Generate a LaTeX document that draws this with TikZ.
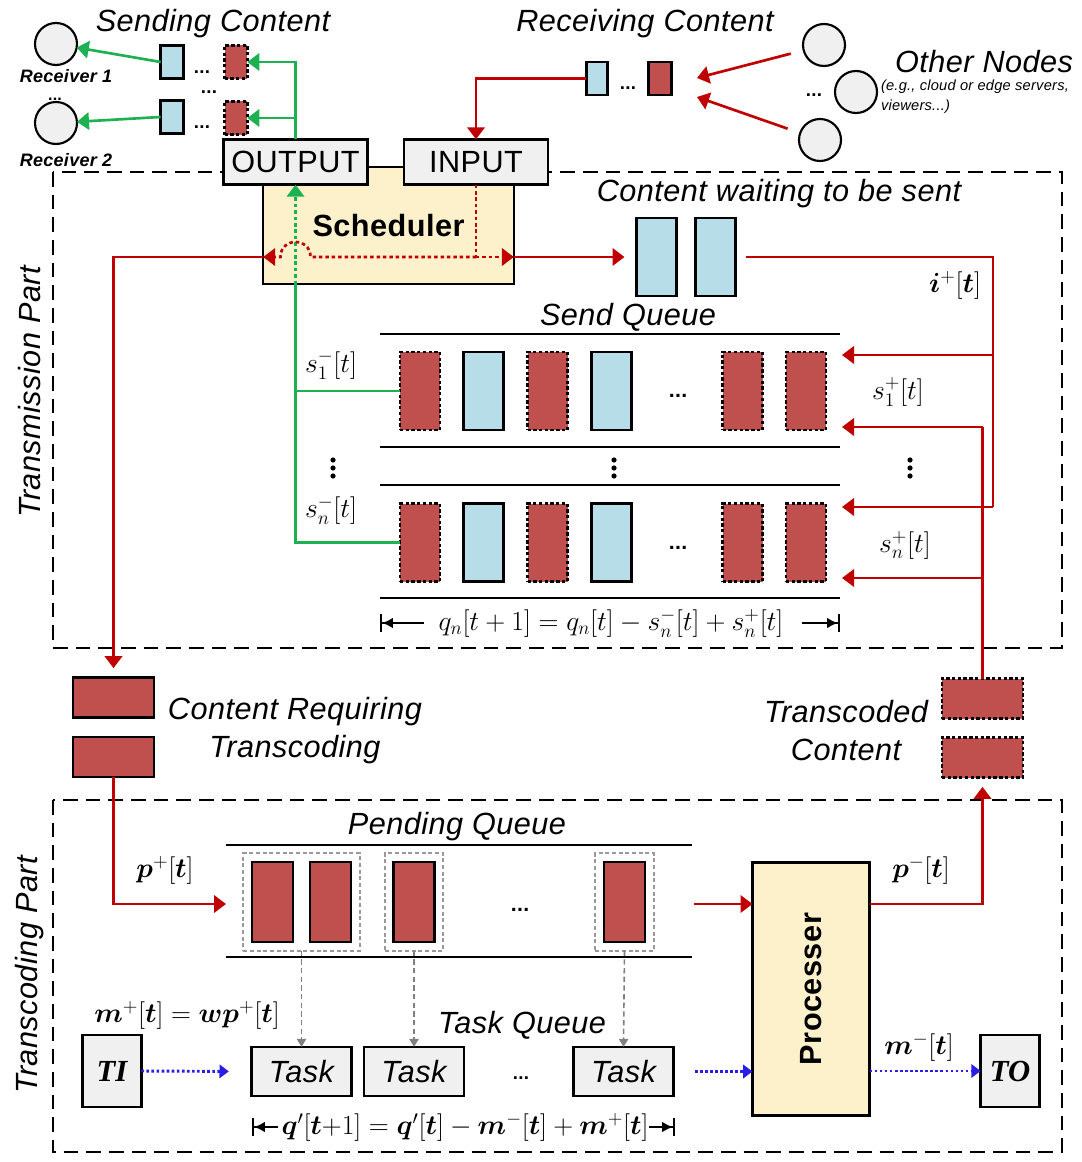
\documentclass[tikz,border=0pt]{standalone}
\usepackage{amsmath}
\usepackage{bm}
\usepackage[no-math]{fontspec}
\setmainfont{Liberation Sans}[LetterSpace=1.5]
\newfontfamily\tmsfont{Liberation Serif}
\usepackage{tikz}
\usetikzlibrary{arrows.meta,positioning,fit,calc}
\definecolor{qred}{HTML}{C0504D}
\definecolor{qblue}{HTML}{B7DDE8}
\definecolor{wirered}{HTML}{C00000}
\definecolor{wiregreen}{HTML}{1EB151}
\definecolor{wireblue}{HTML}{2A1EE6}
\definecolor{boxyellow}{HTML}{FCF1CB}
\definecolor{boxgray}{HTML}{F0F0F0}
\newcommand{\lblfont}{\fontsize{23}{28.5}\selectfont}
\newcommand{\eqfont}{\fontsize{21}{24}\selectfont}

\begin{document}
\begin{tikzpicture}[x=0.75pt,y=-0.75pt,
  every node/.style={inner sep=0pt,outer sep=0pt},
  arr/.style={-{Triangle[length=9pt,width=13pt]}},
  thinarr/.style={-{Triangle[length=6pt,width=7pt]}},
  redwire/.style={draw=wirered,line width=2pt},
  reddot/.style={redwire,dash pattern=on 2.6pt off 2.2pt},
  greenwire/.style={draw=wiregreen,line width=2pt},
  greendot/.style={greenwire,dash pattern=on 2.6pt off 2.2pt},
  bluewire/.style={draw=wireblue,line width=2.2pt,dash pattern=on 2pt off 1.8pt},
  graywire/.style={draw=gray,line width=1.2pt,dash pattern=on 4pt off 2.5pt},
  part/.style={draw,line width=1.2pt,dash pattern=on 11pt off 6pt},
  qline/.style={draw,line width=2pt},
  blueblk/.style={draw,line width=1.8pt,fill=qblue},
  redblk/.style={draw,line width=1.8pt,fill=qred},
  donblk/.style={redblk,dash pattern=on 2.5pt off 1.8pt},
  tinyblk/.style={minimum width=17pt,minimum height=25pt},
  slot/.style={minimum width=30pt,minimum height=58.5pt},
  brick/.style={minimum width=61pt,minimum height=30pt},
  port/.style={draw,line width=1.8pt,fill=boxgray,minimum width=108pt,minimum height=34pt,font=\lblfont},
  taskbox/.style={draw,line width=1.8pt,fill=boxgray,minimum width=75pt,minimum height=37pt,font=\lblfont\itshape},
  term/.style={draw,line width=1.8pt,fill=boxgray,minimum width=44pt,minimum height=54pt,font=\tmsfont\lblfont\bfseries\itshape},
  peer/.style={draw,circle,line width=1.6pt,fill=boxgray,minimum size=31.5pt},
  grp/.style={draw=gray!80,line width=1.5pt,dash pattern=on 3pt off 2pt,inner sep=6.5pt},
  lbl/.style={font=\lblfont\itshape},
  eq/.style={font=\eqfont},
  ellip/.style={font=\fontsize{14}{14}\selectfont\bfseries},
  barhead/.style={line width=1.6pt,-{Latex[length=8pt,width=8pt]Bar[width=13pt]}}]
\useasboundingbox (0,0) rectangle (1081,1162);

\draw[part] (53,172) rectangle (1062,648);
\draw[part] (53,800) rectangle (1062,1152);
\node[lbl,rotate=90] (txpart) at (30,392) {Transmission Part};
\node[lbl,rotate=90] (tcpart) at (30,975) {Transcoding Part};

\node[peer] (rcv1) at (56,44) {};
\node[peer] (rcv2) at (56,123) {};
\node[font=\fontsize{13.5}{15}\selectfont\bfseries\itshape] (rcv1lbl) at (66,76) {Receiver 1};
\node[font=\fontsize{13.5}{15}\selectfont\bfseries\itshape] (rcv2lbl) at (66,160) {Receiver 2};
\node[ellip,font=\fontsize{12}{12}\selectfont\bfseries] (rcvdots) at (55,99) {...};
\node[lbl] (sendlbl) at (213,24) {Sending Content};
\node[blueblk,tinyblk] (sb1) at (172,62) {};
\node[blueblk,tinyblk] (sb2) at (172,117) {};
\node[donblk,tinyblk] (sr1) at (236,62) {};
\node[donblk,tinyblk] (sr2) at (236,118) {};
\node[ellip] (sdots1) at (202,72) {...};
\node[ellip] (sdots2) at (209,92) {...};
\node[ellip] (sdots3) at (202,127) {...};

\node[lbl] (recvlbl) at (645,24) {Receiving Content};
\node[blueblk,tinyblk,minimum width=16pt] (rb) at (597,78.5) {};
\node[redblk,tinyblk] (rr) at (660,78.5) {};
\node[ellip] (rdots) at (628,88) {...};
\node[peer] (on1) at (824,45) {};
\node[peer] (on2) at (856,92) {};
\node[peer] (on3) at (820,140) {};
\node[ellip] (odots) at (814,95) {...};
\node[lbl] (otherlbl) at (984,62) {Other Nodes};
\node[font=\fontsize{11}{15}\selectfont\itshape,align=left,anchor=west] (othernote) at (881,97) {(e.g., cloud or edge servers,\\viewers...)};
\coordinate (rin1) at (697,78);
\coordinate (rin2) at (697,97);

\node[draw,line width=1.8pt,fill=boxyellow,minimum width=188pt,minimum height=88pt,font=\lblfont\bfseries] (sched) at (388.5,225.5) {Scheduler};
\node[port] (OUTPUT) at (295.5,162) {OUTPUT};
\node[port] (INPUT) at (476,162) {INPUT};
\coordinate (lvl) at (0,257);

\node[lbl] (waitlbl) at (779,194) {Content waiting to be sent};
\node[blueblk,slot] (wb1) at (656.5,257) {};
\node[blueblk,slot] (wb2) at (715.5,257) {};
\node[eq] (ilbl) at (955,285) {$\bm{i}^{+}[\bm{t}]$};

\node[lbl] (sqlbl) at (628,317) {Send Queue};
\draw[qline] (380,334) -- (840,334);
\draw[qline] (380,447) -- (840,447);
\draw[qline] (380,485) -- (840,485);
\draw[qline] (380,598) -- (840,598);
\node[donblk,slot] (q1a) at (420,391) {};
\node[blueblk,slot] (q1b) at (483.5,391) {};
\node[donblk,slot] (q1c) at (547.5,391) {};
\node[blueblk,slot] (q1d) at (611.5,391) {};
\node[ellip,font=\fontsize{16}{16}\selectfont\bfseries] (q1dots) at (678,396) {...};
\node[donblk,slot] (q1e) at (742.5,391) {};
\node[donblk,slot] (q1f) at (806,391) {};
\node[donblk,slot] (q2a) at (420,542.5) {};
\node[blueblk,slot] (q2b) at (483.5,542.5) {};
\node[donblk,slot] (q2c) at (547.5,542.5) {};
\node[blueblk,slot] (q2d) at (611.5,542.5) {};
\node[ellip,font=\fontsize{16}{16}\selectfont\bfseries] (q2dots) at (678,548) {...};
\node[donblk,slot] (q2e) at (742.5,542.5) {};
\node[donblk,slot] (q2f) at (806,542.5) {};
\fill (333,460) circle[radius=2.6] (333,468) circle[radius=2.6] (333,476) circle[radius=2.6];
\fill (614,460) circle[radius=2.6] (614,468) circle[radius=2.6] (614,476) circle[radius=2.6];
\fill (910,460) circle[radius=2.6] (910,468) circle[radius=2.6] (910,476) circle[radius=2.6];
\node[eq] (s1m) at (331,365) {$s_1^{-}[t]$};
\node[eq] (snm) at (331,510) {$s_n^{-}[t]$};
\node[eq] (s1p) at (898,392) {$s_1^{+}[t]$};
\node[eq] (snp) at (905,545) {$s_n^{+}[t]$};
\coordinate (in1) at (842,355);
\coordinate (in2) at (842,507);
\coordinate (tc1) at (842,427);
\coordinate (tc2) at (842,578);
\coordinate (ibusT) at (993,257);
\coordinate (ibusB) at (993,507);
\node[eq] (qeq) at (611,623) {$q_n[t+1]=q_n[t]-s_n^{-}[t]+s_n^{+}[t]$};
\coordinate (qeqL) at (380,623);
\coordinate (qeqR) at (840,623);

\node[redblk,brick] (cr1) at (113.5,697.5) {};
\node[redblk,brick] (cr2) at (113.5,757) {};
\node[lbl,align=center] (crlbl) at (295,731) {Content Requiring\\Transcoding};
\node[donblk,brick] (tr1) at (982.5,698.5) {};
\node[donblk,brick] (tr2) at (982.5,757.5) {};
\node[lbl,align=center] (trlbl) at (846,731) {Transcoded\\Content};

\node[lbl] (pqlbl) at (457,827) {Pending Queue};
\draw[qline] (226,845) -- (692,845);
\draw[qline] (226,957) -- (692,957);
\node[redblk,minimum width=30.75pt,minimum height=60pt] (p1) at (272.5,902) {};
\node[redblk,minimum width=30.75pt,minimum height=60pt] (p2) at (330.5,902) {};
\node[redblk,minimum width=30.75pt,minimum height=60pt] (p3) at (414,902) {};
\node[redblk,minimum width=30.75pt,minimum height=60pt] (p4) at (624.5,902) {};
\node[grp,fit=(p1)(p2)] (g1) {};
\node[grp,fit=(p3)] (g2) {};
\node[grp,fit=(p4)] (g3) {};
\node[ellip,font=\fontsize{16}{16}\selectfont\bfseries] (pdots) at (520,910) {...};
\node[eq] (pplus) at (165,870) {$\bm{p}^{+}[\bm{t}]$};
\coordinate (pin) at (226,904);
\coordinate (pout) at (694,904);

\node[draw,line width=1.8pt,fill=boxyellow,minimum width=87.75pt,minimum height=190pt] (proc) at (811,989) {};
\node[font=\lblfont\bfseries,rotate=90] (proclbl) at (proc) {Processer};
\node[eq] (pminus) at (921,870) {$\bm{p}^{-}[\bm{t}]$};

\node[term] (TI) at (112,1071) {TI};
\node[term] (TO) at (1010,1071) {TO};
\node[taskbox] (t1) at (301.5,1071.5) {Task};
\node[taskbox] (t2) at (414,1071.5) {Task};
\node[taskbox] (t3) at (623.5,1071.5) {Task};
\node[ellip] (tdots) at (521,1078) {...};
\node[lbl] (tqlbl) at (522,1025) {Task Queue};
\node[eq] (mplus) at (187,1015) {$\bm{m}^{+}[\bm{t}]=\bm{w}\bm{p}^{+}[\bm{t}]$};
\node[eq] (mminus) at (919,1047) {$\bm{m}^{-}[\bm{t}]$};
\node[eq] (teq) at (465,1127) {$\bm{q}'[\bm{t}{+}1]=\bm{q}'[\bm{t}]-\bm{m}^{-}[\bm{t}]+\bm{m}^{+}[\bm{t}]$};
\coordinate (teqL) at (252,1127);
\coordinate (teqR) at (675,1127);

\draw[greenwire,arr] (OUTPUT.north) |- (sr1.east);
\draw[greenwire,arr] (OUTPUT.north |- sr2.east) -- (sr2.east);
\draw[greenwire,arr] (sb1.west) -- (rcv1);
\draw[greenwire,arr] (sb2.west) -- (rcv2);
\draw[greenwire] (OUTPUT.south |- sched.south) |- (q2a.west);
\draw[greenwire] (OUTPUT.south |- q1a.west) -- (q1a.west);
\draw[greendot,arr] (OUTPUT.south |- sched.south) -- (OUTPUT.south);

\draw[redwire,arr,shorten <=10pt] (on1) -- (rin1);
\draw[redwire,arr,shorten <=10pt] (on3) -- (rin2);
\draw[redwire,arr] (rb.west) -| (INPUT.north);
\draw[reddot] (INPUT.south) -- (INPUT.south |- lvl);
\draw[reddot,arr] (INPUT.south |- lvl) -- (sched.east |- lvl);
\draw[reddot,arr] (INPUT.south |- lvl) -- ($(OUTPUT.south |- lvl)+(15,0)$) .. controls +(0,-20) and +(0,-20) .. ($(OUTPUT.south |- lvl)+(-15,0)$) -- (sched.west |- lvl);
\draw[redwire,arr,shorten >=7pt] (sched.west |- lvl) -| (cr1.north);
\draw[redwire,arr,shorten >=9pt] (sched.east |- lvl) -- (wb1.west);
\draw[redwire] ($(wb2.east)+(10,0)$) -- (ibusT) -- (ibusB);
\draw[redwire,arr] (ibusT |- in1) -- (in1);
\draw[redwire,arr] (ibusB) -- (in2);
\draw[redwire] (tr1.north) -- (tr1.north |- tc1);
\draw[redwire,arr] (tr1.north |- tc1) -- (tc1);
\draw[redwire,arr] (tr1.north |- tc2) -- (tc2);
\draw[redwire,arr] (cr2.south) |- (pin);
\draw[redwire,arr] (pout) -- (proc.west |- pout);
\draw[redwire,arr,shorten >=7pt] (proc.east |- pout) -| (tr2.south);

\draw[graywire,thinarr] (g1.south) -- (t1.north);
\draw[graywire,thinarr] (g2.south) -- (t2.north);
\draw[graywire,thinarr] (g3.south) -- (t3.north);
\draw[bluewire,-{Triangle[length=7pt,width=10pt]},shorten >=17pt] (TI.east) -- (t1.west);
\draw[bluewire,-{Triangle[length=7pt,width=10pt]},shorten <=16pt] (t3.east) -- (proc.west |- t3.east);
\draw[bluewire,-{Triangle[length=7pt,width=10pt]}] (proc.east |- TO.west) -- (TO.west);

\draw[barhead] ($(qeqL)+(44,0)$) -- (qeqL);
\draw[barhead] ($(qeqR)+(-38,0)$) -- (qeqR);
\draw[barhead] ($(teqL)+(26,0)$) -- (teqL);
\draw[barhead] ($(teqR)+(-26,0)$) -- (teqR);
\end{tikzpicture}
\end{document}
